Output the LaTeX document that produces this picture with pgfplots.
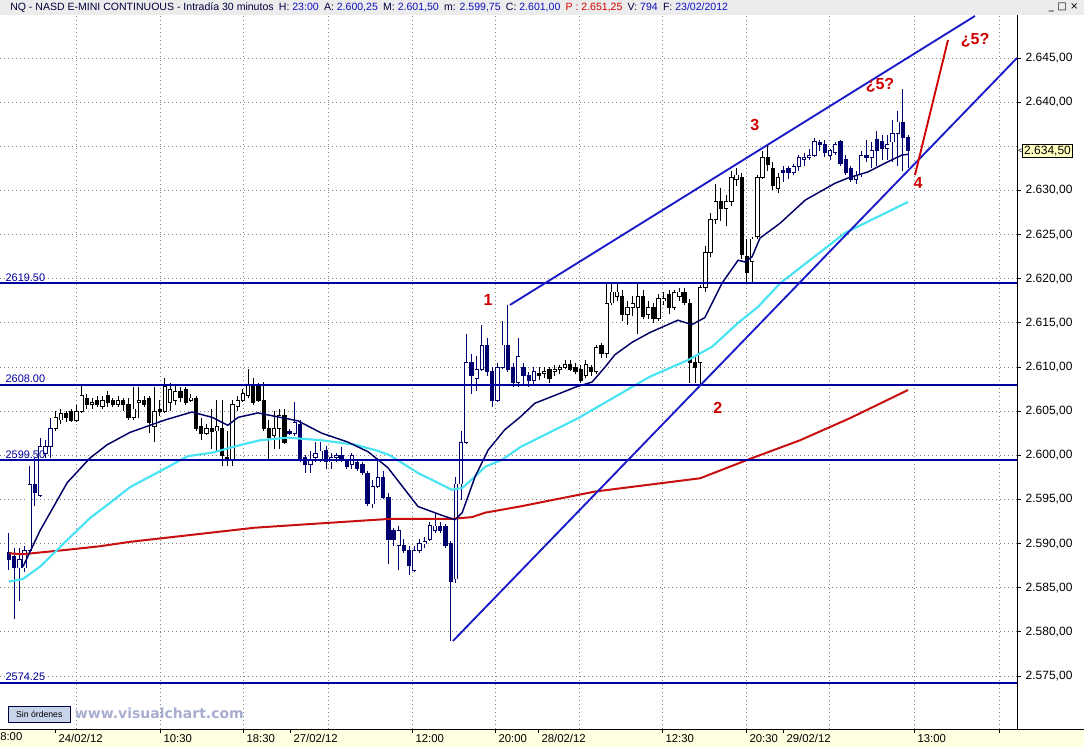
\documentclass[border=0pt]{standalone}
\usepackage{pgfplots}
\pgfplotsset{compat=1.18}
\usepackage{pgfplotstable}
\usepackage{fontspec}
\setmainfont{Liberation Sans}
\newfontfamily\vcfont{DejaVu Sans}

\definecolor{candlenavy}{HTML}{00006E}
\definecolor{lvl}{HTML}{0000A0}
\definecolor{trend}{HTML}{1A1AC8}
\definecolor{navyma}{HTML}{000066}
\definecolor{cyanma}{HTML}{48E4F4}
\definecolor{redma}{HTML}{C81010}
\definecolor{anno}{HTML}{D00000}
\definecolor{gridc}{HTML}{808080}
\definecolor{titlebg}{HTML}{ECECEC}
\definecolor{bandbg}{HTML}{FFFFE1}
\definecolor{pricebox}{HTML}{FFFFC0}
\definecolor{ttl}{HTML}{000040}
\definecolor{tval}{HTML}{1010C0}
\definecolor{vcgrey}{HTML}{A8AED0}
\definecolor{boxblue}{HTML}{C8D4EA}

% 30-minute bars: index, open, high, low, close, day colour (0 navy / 1 black)
\pgfplotstableread{
i o h l c k
0 2589.00 2591.25 2587.00 2588.25 0
1 2588.50 2589.50 2581.50 2587.25 0
2 2587.25 2589.50 2583.50 2588.25 0
3 2587.25 2589.75 2586.75 2589.25 0
4 2589.25 2598.75 2589.00 2596.75 0
5 2596.75 2599.75 2594.25 2595.75 0
6 2595.50 2602.00 2595.25 2601.00 0
7 2600.25 2601.75 2599.75 2601.00 0
8 2601.00 2604.25 2599.75 2603.00 0
9 2603.00 2605.00 2602.75 2604.25 1
10 2604.00 2605.25 2603.50 2604.75 1
11 2604.75 2605.00 2603.75 2604.25 1
12 2605.00 2605.25 2603.75 2604.00 1
13 2604.00 2605.75 2603.75 2605.00 1
14 2605.00 2608.00 2604.75 2606.75 1
15 2606.50 2607.00 2605.25 2605.75 1
16 2605.75 2606.50 2605.25 2606.00 1
17 2606.25 2606.75 2605.50 2605.75 1
18 2605.50 2606.75 2605.25 2606.25 1
19 2606.75 2607.25 2605.50 2606.00 1
20 2606.25 2606.50 2605.50 2605.75 1
21 2605.75 2606.75 2605.50 2606.25 1
22 2606.25 2606.50 2605.00 2605.75 1
23 2605.75 2606.50 2604.00 2604.25 1
24 2604.25 2607.75 2604.00 2605.25 1
25 2606.00 2607.75 2604.25 2606.25 1
26 2606.25 2606.75 2605.50 2605.75 1
27 2606.50 2606.75 2602.50 2603.75 1
28 2603.25 2607.75 2601.50 2605.00 1
29 2605.25 2606.25 2604.50 2605.00 1
30 2605.00 2608.75 2604.75 2607.75 1
31 2606.00 2608.25 2605.00 2607.50 1
32 2606.25 2608.00 2605.75 2607.25 1
33 2607.25 2607.75 2606.00 2606.50 1
34 2607.50 2607.75 2605.75 2606.00 1
35 2606.25 2607.00 2606.00 2606.50 1
36 2606.50 2606.75 2602.75 2603.00 1
37 2603.25 2604.25 2601.75 2602.50 1
38 2602.50 2603.50 2602.25 2603.00 1
39 2603.00 2605.25 2600.75 2602.75 1
40 2602.75 2606.25 2600.50 2603.25 1
41 2603.00 2606.25 2598.75 2600.00 1
42 2599.75 2602.75 2598.75 2599.50 1
43 2599.50 2606.25 2598.75 2605.75 1
44 2605.50 2606.75 2605.00 2606.25 1
45 2606.25 2607.50 2606.00 2607.00 1
46 2606.75 2609.75 2606.50 2608.00 1
47 2608.00 2608.75 2605.75 2606.00 1
48 2607.75 2608.25 2606.00 2606.25 1
49 2606.25 2608.25 2602.75 2603.00 1
50 2603.00 2604.00 2599.50 2602.00 1
51 2602.25 2605.00 2600.75 2603.00 1
52 2603.00 2605.25 2600.75 2604.50 1
53 2604.50 2605.25 2601.25 2601.50 1
54 2602.75 2603.00 2602.25 2602.50 0
55 2602.50 2606.00 2602.25 2603.75 0
56 2603.50 2604.00 2599.25 2599.50 0
57 2599.75 2600.00 2598.00 2599.00 0
58 2599.00 2600.50 2598.00 2599.50 0
59 2599.75 2601.50 2599.25 2600.25 0
60 2599.50 2601.50 2599.25 2600.50 0
61 2600.50 2601.00 2598.50 2599.25 0
62 2599.25 2600.25 2598.50 2599.75 0
63 2599.75 2600.25 2599.25 2600.00 0
64 2600.00 2601.00 2599.25 2599.50 0
65 2599.25 2599.50 2598.50 2598.75 0
66 2599.00 2600.25 2598.50 2600.00 0
67 2599.25 2599.50 2598.25 2598.50 0
68 2599.00 2599.25 2597.75 2598.00 0
69 2598.00 2598.25 2594.25 2594.50 0
70 2594.50 2597.25 2594.00 2596.50 0
71 2596.50 2599.50 2596.25 2597.50 0
72 2597.50 2598.25 2595.00 2595.25 0
73 2595.25 2595.75 2587.75 2590.50 0
74 2591.50 2591.75 2589.75 2590.50 0
75 2589.75 2592.00 2587.00 2591.50 0
76 2589.75 2590.50 2589.00 2589.25 0
77 2589.25 2589.75 2586.50 2587.50 0
78 2587.00 2589.75 2586.75 2589.25 0
79 2589.25 2590.50 2589.00 2590.00 0
80 2590.00 2590.75 2589.50 2590.25 0
81 2590.50 2592.50 2590.25 2592.00 0
82 2591.50 2593.50 2591.25 2592.00 0
83 2592.00 2592.50 2591.25 2591.50 0
84 2592.00 2592.25 2589.50 2589.75 0
85 2590.00 2590.25 2579.00 2585.75 0
86 2586.00 2597.50 2585.50 2596.75 0
87 2596.75 2602.75 2595.00 2601.50 0
88 2601.50 2613.75 2601.25 2610.50 0
89 2610.50 2611.50 2607.00 2609.00 0
90 2608.75 2611.25 2607.25 2609.75 0
91 2609.75 2614.75 2609.50 2612.50 0
92 2612.50 2613.25 2609.00 2609.50 0
93 2609.50 2610.00 2605.50 2606.25 0
94 2606.25 2610.50 2606.00 2610.00 0
95 2610.00 2615.25 2609.75 2612.50 0
96 2612.50 2617.00 2609.50 2609.75 0
97 2610.00 2610.50 2607.75 2608.25 0
98 2608.25 2613.25 2607.75 2611.25 0
99 2610.00 2610.50 2608.00 2609.00 0
100 2609.00 2609.50 2607.75 2608.50 0
101 2608.50 2610.00 2608.00 2609.50 0
102 2609.25 2610.00 2608.50 2609.00 1
103 2609.25 2610.00 2608.75 2609.50 1
104 2609.75 2610.00 2608.25 2608.75 1
105 2609.50 2610.25 2609.00 2609.75 1
106 2609.75 2610.25 2609.25 2610.00 1
107 2610.00 2610.75 2609.75 2610.25 1
108 2610.25 2610.75 2609.50 2609.75 1
109 2610.00 2610.50 2609.25 2609.50 1
110 2609.75 2610.25 2608.25 2608.50 1
111 2609.00 2610.75 2608.75 2610.25 1
112 2610.00 2610.25 2609.00 2609.50 1
113 2609.50 2612.50 2609.25 2612.25 1
114 2612.50 2612.75 2611.00 2611.50 1
115 2611.50 2619.50 2611.00 2617.25 1
116 2617.25 2619.50 2617.00 2618.50 1
117 2618.00 2619.50 2617.50 2618.50 1
118 2618.00 2618.75 2615.25 2616.00 1
119 2616.00 2617.50 2614.75 2616.75 1
120 2616.75 2618.00 2615.75 2617.25 1
121 2616.75 2619.50 2613.75 2618.00 1
122 2618.00 2618.75 2615.50 2615.75 1
123 2616.00 2617.50 2615.50 2616.75 1
124 2616.75 2617.25 2615.00 2615.50 1
125 2615.50 2618.25 2615.25 2617.75 1
126 2617.50 2618.50 2617.00 2617.75 1
127 2618.25 2618.75 2616.00 2616.75 1
128 2616.75 2618.75 2616.50 2618.50 1
129 2618.00 2619.00 2617.50 2618.50 1
130 2618.50 2619.00 2617.00 2617.25 1
131 2617.25 2617.75 2608.25 2610.50 1
132 2610.50 2611.25 2608.25 2610.00 1
133 2610.50 2619.25 2608.00 2619.00 1
134 2619.00 2623.75 2618.50 2623.00 1
135 2623.00 2627.50 2622.50 2626.75 1
136 2626.75 2630.75 2626.25 2628.75 1
137 2628.75 2630.25 2626.50 2628.00 1
138 2628.00 2629.50 2626.00 2628.75 1
139 2628.75 2632.25 2628.25 2631.50 1
140 2631.25 2632.50 2630.50 2631.75 1
141 2631.50 2632.00 2622.25 2622.75 1
142 2622.50 2624.50 2619.50 2620.75 1
143 2622.00 2624.75 2619.50 2624.50 1
144 2624.75 2631.75 2624.50 2631.50 1
145 2631.50 2634.50 2631.25 2633.75 1
146 2633.75 2635.00 2632.25 2633.00 1
147 2632.50 2633.25 2630.00 2630.50 1
148 2630.25 2632.00 2629.75 2631.50 1
149 2632.25 2632.75 2631.00 2632.00 0
150 2632.50 2632.75 2631.25 2632.00 0
151 2632.00 2633.00 2631.75 2632.75 0
152 2632.75 2634.00 2632.25 2633.75 0
153 2633.50 2634.25 2632.75 2633.75 0
154 2633.75 2634.75 2633.50 2634.00 0
155 2634.00 2636.00 2633.75 2635.50 0
156 2635.50 2635.75 2634.50 2635.25 0
157 2635.25 2635.75 2633.75 2634.25 0
158 2634.00 2634.75 2633.50 2634.50 0
159 2634.25 2635.50 2634.00 2635.25 0
160 2635.50 2635.75 2632.75 2633.00 0
161 2633.50 2634.00 2631.75 2632.00 0
162 2632.50 2632.75 2631.00 2631.25 0
163 2631.25 2632.25 2630.75 2631.75 0
164 2631.75 2634.50 2631.50 2634.00 0
165 2634.00 2635.75 2633.25 2633.75 0
166 2633.75 2635.50 2632.50 2634.50 0
167 2635.75 2636.75 2632.75 2634.50 0
168 2635.50 2636.25 2633.50 2634.75 0
169 2634.75 2636.25 2633.50 2635.25 0
170 2635.50 2638.00 2633.25 2636.50 0
171 2636.50 2639.00 2632.75 2637.75 0
172 2637.75 2641.50 2632.25 2636.00 0
173 2636.00 2636.25 2632.50 2634.50 0
}\candles

\pgfplotsset{
  wick/.style={draw=none, mark=none,
    error bars/.cd, y dir=both, y explicit, error mark=none,
    error bar style={draw=#1, line width=0.75pt}},
  body/.style={draw=none, mark=none,
    error bars/.cd, y dir=both, y explicit, error mark=none,
    error bar style={draw=#1, line width=3.2pt}},
  vgrid/.style={gridc, line width=0.6pt, dash pattern=on 0.75pt off 2.25pt, forget plot},
}

\begin{document}
\begin{tikzpicture}
\useasboundingbox (0pt,-13.5pt) rectangle (813pt,546.75pt);
\fill[white] (0pt,-13.5pt) rectangle (813pt,546.75pt);
\fill[titlebg] (0pt,535.5pt) rectangle (813pt,546.75pt);
\fill[bandbg] (0pt,-13.5pt) rectangle (813pt,0pt);
\begin{axis}[
  at={(0pt,0pt)}, anchor=south west,
  scale only axis, width=762.75pt, height=535.5pt,
  xmin=-1.73, xmax=193.96, ymin=2569, ymax=2649.87,
  axis x line*=bottom, axis y line*=right,
  axis line style={black, line width=0.75pt},
  tick align=outside, major tick length=3pt,
  tick style={black, line width=0.6pt},
  xtick={8.85,29.06,45.03,54.07,77.55,93.52,101.79,125.65,141.81,148.93,174.14,190.5},
  xticklabels={24/02/12,10:30,18:30,27/02/12,12:00,20:00,28/02/12,12:30,20:30,29/02/12,13:00,{}},
  xticklabel style={anchor=north west, inner sep=1pt, xshift=1.5pt, font=\fontsize{8.5}{9}\selectfont},
  extra x ticks={12.89,61.38,109.68,157.78},
  extra x tick style={grid=major, major tick length=0pt, xticklabel={}},
  extra x tick labels={},
  ytick={2575,2580,2585,2590,2595,2600,2605,2610,2615,2620,2625,2630,2640,2645},
  scaled y ticks=false,
  yticklabel style={font=\fontsize{9}{10}\selectfont,
    /pgf/number format/.cd, fixed, fixed zerofill, precision=2,
    1000 sep={.}, dec sep={,}, assume math mode=true},
  ymajorgrids,
  grid style={gridc, line width=0.6pt, dash pattern=on 0.75pt off 2.25pt},
  clip mode=individual,
]
% dotted grid: 2635 level (its label is covered by the price box) and labelled times
\addplot[vgrid] coordinates {(-1.73,2635) (193.96,2635)};
\addplot[vgrid] coordinates {(29.06,2569) (29.06,2649.87)};
\addplot[vgrid] coordinates {(45.03,2569) (45.03,2649.87)};
\addplot[vgrid] coordinates {(77.55,2569) (77.55,2649.87)};
\addplot[vgrid] coordinates {(93.52,2569) (93.52,2649.87)};
\addplot[vgrid] coordinates {(125.65,2569) (125.65,2649.87)};
\addplot[vgrid] coordinates {(141.81,2569) (141.81,2649.87)};
\addplot[vgrid] coordinates {(174.14,2569) (174.14,2649.87)};
\addplot[vgrid] coordinates {(190.5,2569) (190.5,2649.87)};

% candles: wicks, bodies, hollow (rising) bodies
\addplot[restrict expr to domain={\thisrow{k}}{0:0}, wick=candlenavy]
  table[x=i, y expr={(\thisrow{h}+\thisrow{l})/2}, y error expr={(\thisrow{h}-\thisrow{l})/2}] {\candles};
\addplot[restrict expr to domain={\thisrow{k}}{1:1}, wick=black]
  table[x=i, y expr={(\thisrow{h}+\thisrow{l})/2}, y error expr={(\thisrow{h}-\thisrow{l})/2}] {\candles};
\addplot[restrict expr to domain={\thisrow{k}}{0:0}, body=candlenavy]
  table[x=i, y expr={(\thisrow{o}+\thisrow{c})/2}, y error expr={abs(\thisrow{c}-\thisrow{o})/2+0.05}] {\candles};
\addplot[restrict expr to domain={\thisrow{k}}{1:1}, body=black]
  table[x=i, y expr={(\thisrow{o}+\thisrow{c})/2}, y error expr={abs(\thisrow{c}-\thisrow{o})/2+0.05}] {\candles};
\addplot[restrict expr to domain={\thisrow{c}-\thisrow{o}}{0.1:100}, draw=none, mark=none,
  error bars/.cd, y dir=both, y explicit, error mark=none,
  error bar style={draw=white, line width=2.0pt}]
  table[x=i, y expr={(\thisrow{o}+\thisrow{c})/2}, y error expr={(\thisrow{c}-\thisrow{o})/2-0.05}] {\candles};

% moving averages
\addplot[redma, line width=1.5pt] coordinates {
(0,2588.9) (2.7,2588.8) (11.2,2589.3) (17.5,2589.7) (23.3,2590.2) (47.3,2591.8)
(60.2,2592.3) (73.3,2592.8) (85.2,2592.8) (89.1,2593.0) (91.6,2593.5) (98.3,2594.2)
(112.8,2595.9) (133.0,2597.4) (142.6,2599.6) (152.2,2601.7) (161.8,2604.2) (173,2607.4)};
\addplot[cyanma, line width=1.6pt] coordinates {
(0,2585.7) (2.7,2586.0) (6.0,2587.4) (11.2,2590.4) (15.6,2592.9) (19.4,2594.6)
(23.3,2596.4) (29.4,2598.3) (34.4,2599.9) (39.1,2600.3) (44.1,2601.1) (48.3,2601.7)
(53.7,2602.0) (60.2,2601.7) (66.6,2601.2) (71.0,2600.5) (73.3,2600.0) (78.7,2598.0)
(85.2,2596.1) (87.2,2596.3) (89.7,2597.6) (91.6,2598.7) (94.9,2599.5) (98.3,2600.9)
(109.5,2604.2) (123.3,2608.9) (130.7,2610.8) (135.3,2612.3) (140.3,2615.0)
(144.1,2616.8) (148.4,2619.5) (160.9,2625.2) (173,2628.7)};
\addplot[navyma, line width=1.1pt] coordinates {
(2.7,2587.4) (6.0,2591.5) (11.2,2596.9) (15.6,2599.7) (18.9,2601.2) (23.3,2602.6)
(30.0,2604.0) (35.2,2604.9) (39.1,2604.3) (42.1,2603.4) (44.1,2604.3) (47.9,2604.8)
(55.6,2603.9) (60.2,2602.5) (65.2,2601.5) (69.1,2600.4) (72.9,2598.6) (78.7,2594.2)
(83.3,2593.2) (85.8,2592.7) (87.2,2593.5) (89.7,2597.6) (92.2,2600.6) (95.4,2602.9)
(98.3,2604.3) (101.2,2605.9) (105.1,2606.8) (108.9,2607.7) (112.2,2608.3) (114.7,2610.0)
(116.6,2611.4) (119.9,2612.8) (123.3,2613.9) (128.7,2615.3) (131.4,2614.8) (133.9,2615.6)
(137.2,2619.5) (140.3,2622.1) (141.6,2621.9) (143.0,2622.5) (144.5,2624.6) (148.4,2626.3)
(153.2,2628.9) (158.9,2630.8) (161.4,2631.4) (165.3,2632.1) (168.6,2633.1) (171.8,2634.0)
(173,2634.1)};

% horizontal levels
\addplot[lvl, line width=1.4pt] coordinates {(-1.73,2619.5) (193.96,2619.5)};
\addplot[lvl, line width=1.4pt] coordinates {(-1.73,2608) (193.96,2608)};
\addplot[lvl, line width=1.4pt] coordinates {(-1.73,2599.5) (193.96,2599.5)};
\addplot[lvl, line width=1.4pt] coordinates {(-1.73,2574.25) (193.96,2574.25)};

% trend channel and projection
\addplot[trend, line width=1.4pt] coordinates {(85.43,2578.97) (193.96,2645.0)};
\addplot[trend, line width=1.4pt] coordinates {(96.4,2617.03) (185.87,2649.76)};
\addplot[anno, line width=1.4pt] coordinates {(174.33,2631.75) (180.68,2647.04)};

\begin{scope}[every node/.style={inner sep=1pt, font=\fontsize{8.2}{9}\selectfont, text=lvl, anchor=south west, xshift=3pt}]
\node at (axis cs:-1.73,2619.5) {2619.50};
\node at (axis cs:-1.73,2608) {2608.00};
\node at (axis cs:-1.73,2599.5) {2599.50};
\node at (axis cs:-1.73,2574.25) {2574.25};
\end{scope}

\begin{scope}[every node/.style={inner sep=0pt, font=\fontsize{12}{13}\selectfont\bfseries, text=anno}]
\node at (axis cs:92.2,2617.6) {1};
\node at (axis cs:136.4,2605.4) {2};
\node at (axis cs:143.5,2637.4) {3};
\node at (axis cs:174.9,2630.8) {4};
\node at (axis cs:167.6,2641.9) {¿5?};
\node at (axis cs:185.9,2647.0) {¿5?};
\end{scope}

\node[anchor=west, inner sep=0pt, xshift=0.6pt, font=\fontsize{6}{6}\selectfont] at (axis cs:193.96,2634.5) {<};
\node[anchor=west, xshift=4pt, draw=black, fill=pricebox, inner sep=1.2pt,
  font=\fontsize{9}{10}\selectfont] at (axis cs:193.96,2634.5) {2.634,50};
\end{axis}

\draw[black, line width=0.75pt] (0pt,0pt) -- (813pt,0pt);
\node[anchor=north west, inner sep=1pt, font=\fontsize{8.5}{9}\selectfont] at (-1pt,-1.5pt) {8:00};

\node[anchor=west, inner sep=0pt, font=\fontsize{7.9}{8}\selectfont, text=ttl] at (7.5pt,541.2pt)
 {NQ - NASD E-MINI CONTINUOUS - Intradía 30 minutos\enspace H: \textcolor{tval}{23:00}\enspace A: \textcolor{tval}{2.600,25}\enspace M: \textcolor{tval}{2.601,50}\enspace m: \textcolor{tval}{2.599,75}\enspace C: \textcolor{tval}{2.601,00}\enspace \textcolor{anno}{P : 2.651,25}\enspace V: \textcolor{tval}{794}\enspace F: \textcolor{tval}{23/02/2012}};
\node[anchor=east, inner sep=0pt, font=\vcfont\fontsize{7.5}{8}\selectfont] at (809pt,541.2pt) {\_\,\,□\,\,×};

\node[anchor=south west, draw=ttl, fill=boxblue, minimum width=46.5pt, minimum height=12pt,
  inner sep=0pt, font=\fontsize{6.5}{7}\selectfont] at (6pt,4.5pt) {Sin órdenes};
\node[anchor=west, inner sep=0pt, text=vcgrey, font=\vcfont\bfseries\fontsize{10.5}{11}\selectfont] at (56pt,12pt) {www.visualchart.com};
\end{tikzpicture}
\end{document}
